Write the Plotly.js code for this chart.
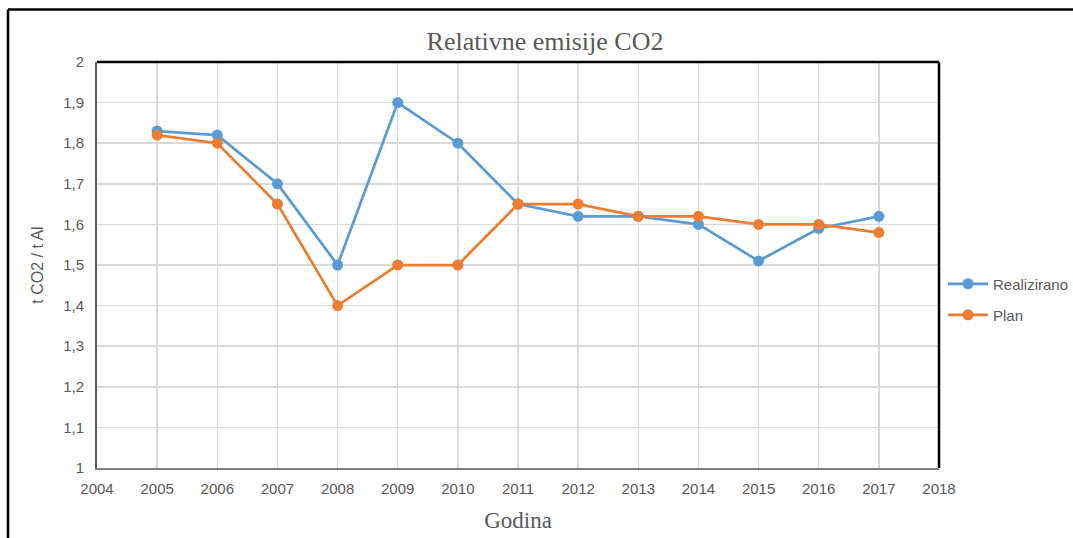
<!DOCTYPE html>
<html><head><meta charset="utf-8">
<script src="https://cdn.plot.ly/plotly-3.0.1.min.js"></script>
<style>body{margin:0;background:#fff}#c{width:1073px;height:538px}</style>
</head><body><div id="c"></div>
<script>
const years = [2005,2006,2007,2008,2009,2010,2011,2012,2013,2014,2015,2016,2017];
const realizirano = [1.83,1.82,1.70,1.50,1.90,1.80,1.65,1.62,1.62,1.60,1.51,1.59,1.62];
const plan = [1.82,1.80,1.65,1.40,1.50,1.50,1.65,1.65,1.62,1.62,1.60,1.60,1.58];
const seriesNames = ['Realizirano','Plan'];
const xTicks = [2004,2005,2006,2007,2008,2009,2010,2011,2012,2013,2014,2015,2016,2017,2018];
const yTicks = [1,1.1,1.2,1.3,1.4,1.5,1.6,1.7,1.8,1.9,2];
const yTickText = yTicks.map(v => String(v).replace('.', ','));

const W=1073,H=538,L=97,R=939,T=62,B=468;
const px = x => (x-L)/(R-L);
const py = y => (B-y)/(B-T);

const traces = [
  {x:years,y:realizirano,name:seriesNames[0],mode:'lines+markers',
   line:{color:'#5B9BD5',width:2.75},marker:{color:'#5B9BD5',size:11},legend:'legend'},
  {x:years,y:plan,name:seriesNames[1],mode:'lines+markers',
   line:{color:'#ED7D31',width:2.75},marker:{color:'#ED7D31',size:11},legend:'legend2'}
];
const tickFont = {family:'Liberation Sans, Arial, sans-serif',size:15,color:'#595959'};
const layout = {
  width:W,height:H,
  margin:{l:L,r:W-R,t:T,b:H-B,autoexpand:false},
  paper_bgcolor:'#fff',plot_bgcolor:'#fff',
  showlegend:true,
  title:{text:'Relativne emisije CO2',x:545/W,xref:'container',xanchor:'center',y:1-41/H,yref:'container',yanchor:'middle',
    font:{family:'Liberation Serif, Times New Roman, serif',size:26,color:'#595959'}},
  xaxis:{range:[2004,2018],tickvals:xTicks,ticktext:xTicks.map(String),showgrid:true,gridcolor:'#d9d9d9',gridwidth:1.5,
    zeroline:false,showline:true,linecolor:'#7f7f7f',linewidth:2,ticks:'',tickfont:tickFont,ticklabelstandoff:6,automargin:false,
    title:{text:'Godina',font:{family:'Liberation Serif, Times New Roman, serif',size:23,color:'#595959'},standoff:16}},
  yaxis:{range:[1,2],tickvals:yTicks,ticktext:yTickText,showgrid:true,gridcolor:'#d9d9d9',gridwidth:1.5,automargin:false,
    zeroline:false,showline:true,linecolor:'#595959',linewidth:2,ticks:'',tickfont:tickFont,ticklabelstandoff:8,
    title:{text:'t CO2 / t Al',font:{family:'Liberation Sans, Arial, sans-serif',size:16,color:'#595959'},standoff:16}},
  legend:{x:px(943),y:py(284),xanchor:'left',yanchor:'middle',font:tickFont,bgcolor:'rgba(0,0,0,0)',itemwidth:40},
  legend2:{x:px(943),y:py(315),xanchor:'left',yanchor:'middle',font:tickFont,bgcolor:'rgba(0,0,0,0)',itemwidth:40},
  shapes:[
    {type:'line',xref:'paper',yref:'paper',x0:0,x1:1,y0:1,y1:1,line:{color:'#000',width:2.5}},
    {type:'line',xref:'paper',yref:'paper',x0:1,x1:1,y0:0,y1:1,line:{color:'#000',width:2.5}},
    {type:'line',xref:'paper',yref:'paper',x0:px(8),x1:px(1080),y0:py(9.5),y1:py(9.5),line:{color:'#000',width:2.5}},
    {type:'line',xref:'paper',yref:'paper',x0:px(8),x1:px(8),y0:py(9.5),y1:py(545),line:{color:'#000',width:2.5}}
  ]
};
Plotly.newPlot('c',traces,layout,{displayModeBar:false,staticPlot:true});
</script></body></html>
